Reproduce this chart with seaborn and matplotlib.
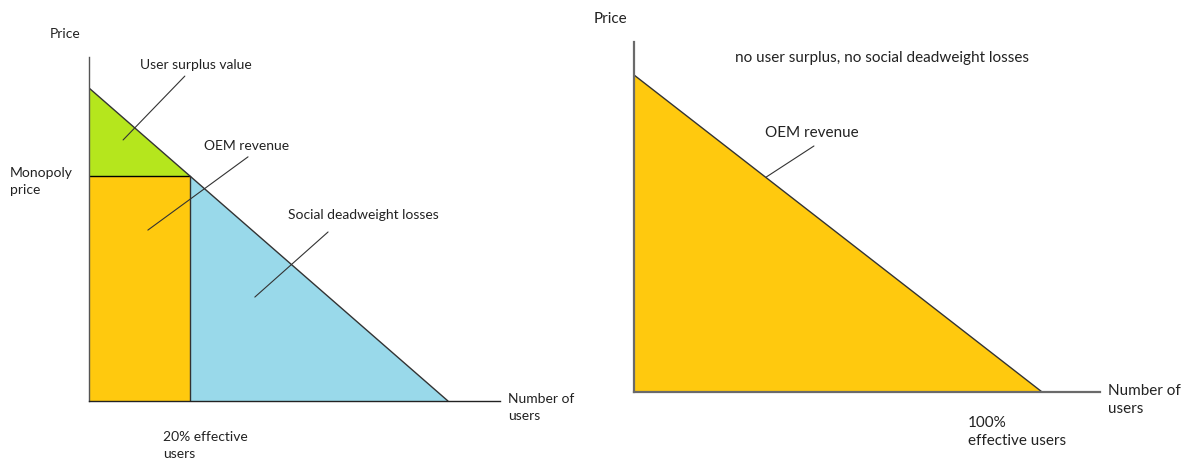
import matplotlib
matplotlib.use("Agg")
import matplotlib.pyplot as plt
import seaborn as sns

# demand curve (quantity in % of users, price in arbitrary units)
demand_q = [0, 100]
demand_p = [10, 0]

# monopoly point on the left chart
mono_q = 28
mono_p = 7.2

GREEN = "#b5e61d"
ORANGE = "#ffc90e"
BLUE = "#99d9ea"

sns.set_style("white")
plt.rcParams['font.family'] = ['Lato', 'DejaVu Sans']

fig = plt.figure(figsize=(11.84, 4.59), dpi=100)
W, H = 1184, 459

# left panel: origin at pixel (89, 401)
ax1 = fig.add_axes([89 / W, (H - 401) / H, 411 / W, 344 / H])
ax1.set_xlim(0, 114.5)
ax1.set_ylim(0, 10.99)

# right panel: origin at pixel (634, 392)
ax2 = fig.add_axes([634 / W, (H - 392) / H, 466 / W, 350 / H])
ax2.set_xlim(0, 114.2)
ax2.set_ylim(0, 11.04)

for ax in (ax1, ax2):
    sns.despine(ax=ax)
    ax.set_xticks([])
    ax.set_yticks([])
    ax.patch.set_alpha(0)

ax1.spines['left'].set_color('#555555')
ax1.spines['bottom'].set_color('#222222')
for sp in ('left', 'bottom'):
    ax1.spines[sp].set_linewidth(1)
    ax2.spines[sp].set_linewidth(1.6)
    ax2.spines[sp].set_color('#6a6a6a')

fs = 10
fs2 = 11

# ---- left chart: monopoly pricing
ax1.fill([0, 0, mono_q], [demand_p[0], mono_p, mono_p], color=GREEN, lw=0)
ax1.fill([0, mono_q, mono_q, 0], [0, 0, mono_p, mono_p], color=ORANGE, lw=0)
ax1.fill([mono_q, mono_q, demand_q[1]], [mono_p, 0, 0], color=BLUE, lw=0)
ax1.plot([0, mono_q], [mono_p, mono_p], color='black', lw=1)
ax1.plot([mono_q, mono_q], [0, mono_p], color='#333333', lw=1)
sns.lineplot(x=demand_q, y=demand_p, ax=ax1, color='#333333', lw=1)

ax1.text(-10.9, 11.73, "Price", fontsize=fs, va='center', ha='left')
ax1.text(-22.0, 7.0, "Monopoly\nprice", fontsize=fs, va='center', ha='left', linespacing=1.5)
ax1.text(116.7, -0.22, "Number of\nusers", fontsize=fs, va='center', ha='left', linespacing=1.5)
ax1.text(20.6, -1.41, "20% effective\nusers", fontsize=fs, va='center', ha='left', linespacing=1.5)

ax1.text(29.8, 10.73, "User surplus value", fontsize=fs, va='center', ha='center')
ax1.plot([26.7, 9.5], [10.38, 8.34], color='#333333', lw=0.8)
ax1.text(43.8, 8.15, "OEM revenue", fontsize=fs, va='center', ha='center')
ax1.plot([44.3, 16.4], [7.80, 5.46], color='#333333', lw=0.8)
ax1.text(76.3, 5.94, "Social deadweight losses", fontsize=fs, va='center', ha='center')
ax1.plot([66.6, 46.2], [5.40, 3.32], color='#333333', lw=0.8)

# ---- right chart: perfect price discrimination
ax2.fill([0, 0, demand_q[1]], [demand_p[0], 0, 0], color=ORANGE, lw=0)
sns.lineplot(x=demand_q, y=demand_p, ax=ax2, color='#333333', lw=1)

ax2.text(-10.0, 11.77, "Price", fontsize=fs2, va='center', ha='left')
ax2.text(60.8, 10.54, "no user surplus, no social deadweight losses", fontsize=fs2, va='center', ha='center')
ax2.text(43.6, 8.17, "OEM revenue", fontsize=fs2, va='center', ha='center')
ax2.plot([44.1, 32.4], [7.76, 6.78], color='#333333', lw=0.8)
ax2.text(116.2, -0.25, "Number of\nusers", fontsize=fs2, va='center', ha='left', linespacing=1.4)
ax2.text(81.9, -1.26, "100%\neffective users", fontsize=fs2, va='center', ha='left', linespacing=1.4)

for ax in (ax1, ax2):
    for t in ax.texts:
        t.set_clip_on(False)
        t.set_color('#222222')

fig.savefig("out.png", dpi=100, facecolor='white')
